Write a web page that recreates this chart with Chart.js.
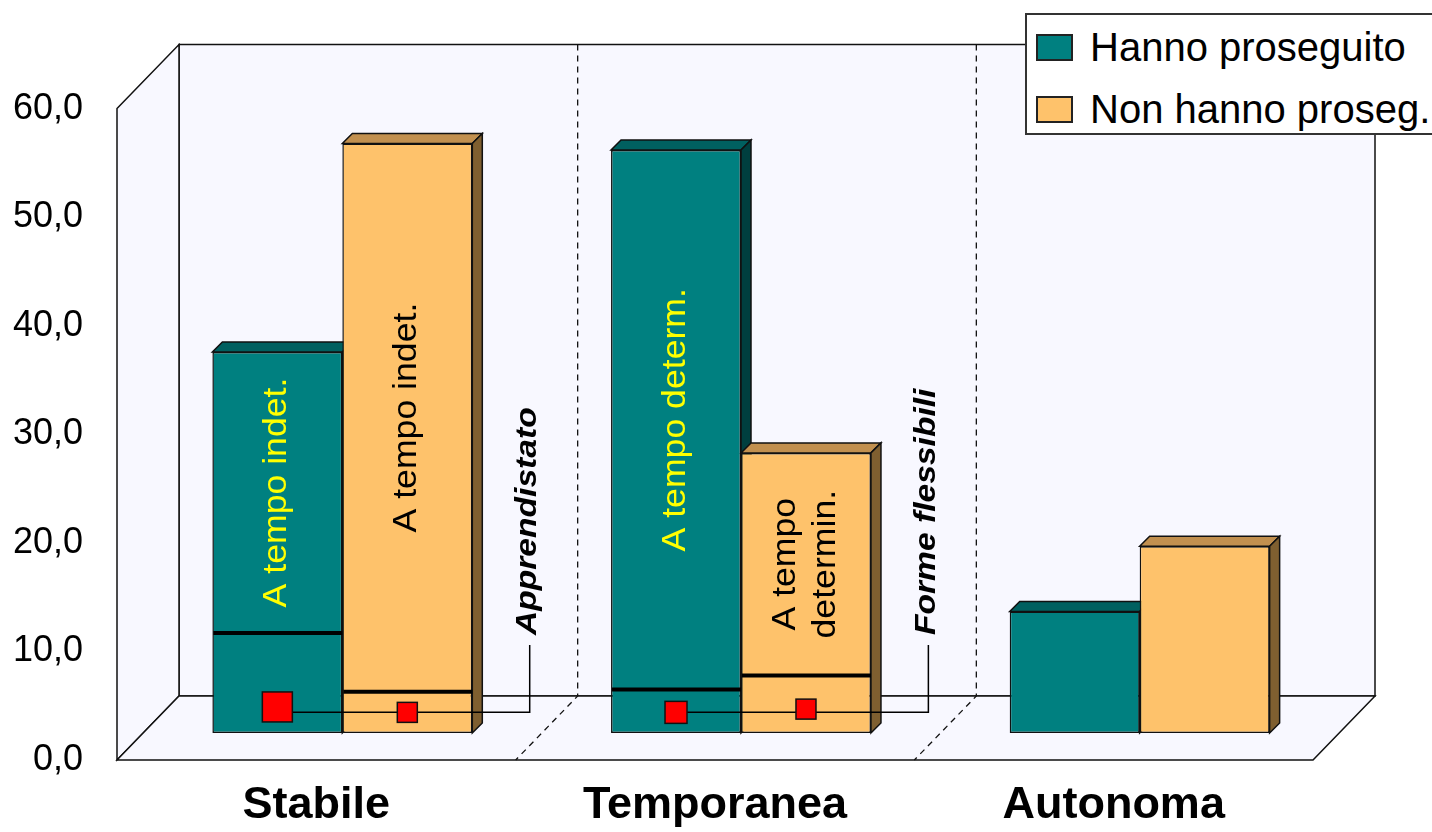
<!DOCTYPE html>
<html>
<head>
<meta charset="utf-8">
<script src="https://cdn.jsdelivr.net/npm/chart.js@4"></script>
<style>
  body { margin: 0; background: #fff; }
  #wrap { position: relative; width: 1432px; height: 832px; overflow: hidden; }
  #legend {
    position: absolute; left: 1025px; top: 13px; width: 430px; height: 122px;
    background: #fff; border: 2px solid #333; box-sizing: border-box;
    font-family: "Liberation Sans", Arial, sans-serif; font-size: 40px; color: #000;
  }
  #legend .item { position: absolute; left: 9px; height: 44px; line-height: 44px; white-space: nowrap; }
  #legend .sw { display: inline-block; width: 33px; height: 23px; border: 2px solid #222; vertical-align: middle; margin-right: 17px; position: relative; top: -3px; }
</style>
</head>
<body>
<div id="wrap">
  <canvas id="chart" width="1432" height="832"></canvas>
  <div id="legend"></div>
</div>
<script>
const FONT = '"Liberation Sans", Arial, sans-serif';

const categories = ['Stabile', 'Temporanea', 'Autonoma'];
const seriesNames = ['Hanno proseguito', 'Non hanno proseg.'];
const proseguito = [35.1, 53.7, 11.2];
const nonProseguito = [54.3, 25.8, 17.2];
// where the black split line sits inside each bar
const splitProseguito = [9.2, 4.0, null];
const splitNonProseguito = [3.8, 5.3, null];
// red square markers
const markerProseguito = [2.4, 1.9, null];
const markerNonProseguito = [1.9, 2.2, null];
const yTickLabels = ['0,0', '10,0', '20,0', '30,0', '40,0', '50,0', '60,0'];
const textProseguito = ['A tempo indet.', 'A tempo determ.', ''];
const textNonProseguito = ['A tempo indet.', ['A tempo', 'determin.'], ''];
const calloutLabels = ['Apprendistato', 'Forme flessibili', ''];
const calloutLineValue = [1.9, 1.9, null];
const calloutTopValue = [8.1, 8.1, null];

const colors = {
  teal: { front: '#008080', top: '#006060', side: '#003f3f', text: '#ffff00' },
  orange: { front: '#fec26b', top: '#c2904f', side: '#7f5f30', text: '#000000' }
};
const faces = [colors.teal, colors.orange];

// 3D offsets relative to the plane of the bars
const frontOff = { x: -26, y: 27 };
const backOff = { x: 36, y: -37 };
const barDepth = 10;
const wallFill = '#f8f8ff';

function poly(ctx, pts, fill) {
  ctx.beginPath();
  ctx.moveTo(pts[0][0], pts[0][1]);
  for (let i = 1; i < pts.length; i++) ctx.lineTo(pts[i][0], pts[i][1]);
  ctx.closePath();
  ctx.fillStyle = fill;
  ctx.fill();
  ctx.stroke();
}

// vertical text, reading bottom to top; stretch widens it along its length
function rotatedText(ctx, lines, x, y, font, color, align, lineGap, stretch) {
  if (!Array.isArray(lines)) lines = [lines];
  ctx.save();
  ctx.translate(x, y);
  ctx.rotate(-Math.PI / 2);
  ctx.scale(stretch, 1);
  ctx.font = font;
  ctx.fillStyle = color;
  ctx.textAlign = align;
  ctx.textBaseline = 'middle';
  const n = lines.length;
  lines.forEach((ln, i) => {
    ctx.fillText(ln, 0, (i - (n - 1) / 2) * lineGap);
  });
  ctx.restore();
}

const box3d = {
  id: 'box3d',
  beforeDatasetsDraw(chart) {
    const ctx = chart.ctx;
    const a = chart.chartArea;
    const x = chart.scales.x;
    ctx.save();
    ctx.strokeStyle = '#111';
    ctx.lineWidth = 1.5;
    // back wall
    poly(ctx, [[a.left + backOff.x, a.top + backOff.y], [a.right + backOff.x, a.top + backOff.y],
      [a.right + backOff.x, a.bottom + backOff.y], [a.left + backOff.x, a.bottom + backOff.y]], wallFill);
    // left wall
    poly(ctx, [[a.left + frontOff.x, a.top + frontOff.y], [a.left + backOff.x, a.top + backOff.y],
      [a.left + backOff.x, a.bottom + backOff.y], [a.left + frontOff.x, a.bottom + frontOff.y]], wallFill);
    // floor
    poly(ctx, [[a.left + frontOff.x, a.bottom + frontOff.y], [a.right + frontOff.x, a.bottom + frontOff.y],
      [a.right + backOff.x, a.bottom + backOff.y], [a.left + backOff.x, a.bottom + backOff.y]], wallFill);
    // dashed separators between categories
    ctx.setLineDash([6, 5]);
    ctx.lineWidth = 1.3;
    for (let i = 0; i < categories.length - 1; i++) {
      const bx = (x.getPixelForValue(i) + x.getPixelForValue(i + 1)) / 2;
      ctx.beginPath();
      ctx.moveTo(bx + backOff.x, a.top + backOff.y);
      ctx.lineTo(bx + backOff.x, a.bottom + backOff.y);
      ctx.lineTo(bx + frontOff.x, a.bottom + frontOff.y);
      ctx.stroke();
    }
    ctx.setLineDash([]);
    // top and side faces of the bars
    ctx.lineWidth = 1.5;
    for (let j = 0; j < categories.length; j++) {
      chart.data.datasets.forEach((ds, i) => {
        const bar = chart.getDatasetMeta(i).data[j];
        const l = bar.x - bar.width / 2, r = bar.x + bar.width / 2;
        const t = bar.y, b = bar.base;
        poly(ctx, [[l, t], [r, t], [r + barDepth, t - barDepth], [l + barDepth, t - barDepth]], faces[i].top);
        poly(ctx, [[r, t], [r + barDepth, t - barDepth], [r + barDepth, b - barDepth], [r, b]], faces[i].side);
      });
    }
    ctx.restore();
  },
  afterDatasetsDraw(chart) {
    const ctx = chart.ctx;
    const x = chart.scales.x, y = chart.scales.y;
    const metaA = chart.getDatasetMeta(0).data;
    const metaB = chart.getDatasetMeta(1).data;
    const catW = x.getPixelForValue(1) - x.getPixelForValue(0);
    ctx.save();
    // split lines
    ctx.strokeStyle = '#000';
    ctx.lineWidth = 4;
    [[metaA, splitProseguito], [metaB, splitNonProseguito]].forEach(([meta, vals]) => {
      meta.forEach((bar, j) => {
        if (vals[j] == null) return;
        const py = y.getPixelForValue(vals[j]);
        ctx.beginPath();
        ctx.moveTo(bar.x - bar.width / 2 + 1, py);
        ctx.lineTo(bar.x + bar.width / 2, py);
        ctx.stroke();
      });
    });
    // texts inside bars, centred between split and top
    [[metaA, textProseguito, splitProseguito, 0], [metaB, textNonProseguito, splitNonProseguito, 1]].forEach(([meta, txt, split, i]) => {
      meta.forEach((bar, j) => {
        if (!txt[j]) return;
        const ym = (bar.y + y.getPixelForValue(split[j])) / 2;
        rotatedText(ctx, txt[j], bar.x, ym, '33px ' + FONT, faces[i].text, 'center', 40, 1.08);
      });
    });
    // callout lines
    ctx.lineWidth = 1.5;
    categories.forEach((c, j) => {
      if (!calloutLabels[j]) return;
      const lx = x.getPixelForValue(j) + catW * 0.47;
      const ly = y.getPixelForValue(calloutLineValue[j]);
      const ty = y.getPixelForValue(calloutTopValue[j]);
      ctx.beginPath();
      ctx.moveTo(metaA[j].x, ly);
      ctx.lineTo(lx, ly);
      ctx.lineTo(lx, ty);
      ctx.stroke();
      rotatedText(ctx, calloutLabels[j], lx - 2, ty - 10, 'italic bold 30px ' + FONT, '#000', 'left', 0, 1.12);
    });
    // red markers
    const sizes = [[30, 22], [20, 20]];
    [[metaA, markerProseguito, 0], [metaB, markerNonProseguito, 1]].forEach(([meta, vals, i]) => {
      meta.forEach((bar, j) => {
        if (vals[j] == null) return;
        const s = sizes[i][j === 0 ? 0 : 1];
        const py = y.getPixelForValue(vals[j]);
        ctx.fillStyle = '#ff0000';
        ctx.strokeStyle = '#111';
        ctx.fillRect(bar.x - s / 2, py - s / 2, s, s);
        ctx.strokeRect(bar.x - s / 2, py - s / 2, s, s);
      });
    });
    ctx.restore();
  }
};

const chart = new Chart(document.getElementById('chart'), {
  type: 'bar',
  data: {
    labels: categories,
    datasets: [
      { label: seriesNames[0], data: proseguito, backgroundColor: colors.teal.front },
      { label: seriesNames[1], data: nonProseguito, backgroundColor: colors.orange.front }
    ].map(d => Object.assign(d, {
      borderColor: '#111', borderWidth: 1.5, borderSkipped: false,
      categoryPercentage: 0.652, barPercentage: 1
    }))
  },
  options: {
    responsive: false,
    animation: false,
    layout: { padding: { top: 80, right: 93, left: 0, bottom: 0 } },
    plugins: { legend: { display: false }, tooltip: { enabled: false } },
    scales: {
      x: {
        grid: { display: false, drawTicks: false },
        border: { display: false },
        ticks: { font: { family: FONT, size: 45, weight: 'bold' }, color: '#000', padding: 46, labelOffset: -26 },
        afterFit: s => { s.height = 99; }
      },
      y: {
        min: 0, max: 60,
        grid: { display: false, drawTicks: false },
        border: { display: false },
        ticks: {
          stepSize: 10, font: { family: FONT, size: 36 }, color: '#000', padding: 60, labelOffset: 27,
          callback: (v, i) => yTickLabels[i]
        },
        afterFit: s => { s.width = 143; }
      }
    }
  },
  plugins: [box3d]
});

const legend = document.getElementById('legend');
chart.data.datasets.forEach((ds, i) => {
  const it = document.createElement('div');
  it.className = 'item';
  it.style.top = (i === 0 ? 10 : 72) + 'px';
  it.innerHTML = '<span class="sw" style="background:' + ds.backgroundColor + '"></span>' + ds.label;
  legend.appendChild(it);
});
</script>
</body>
</html>
